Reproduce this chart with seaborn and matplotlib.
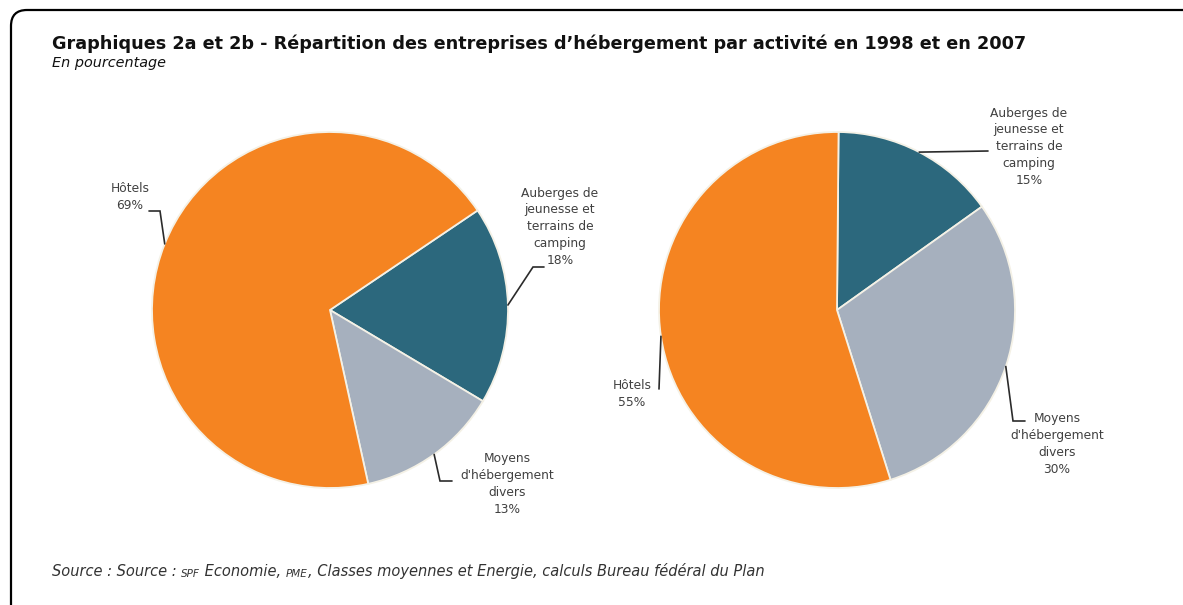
import numpy as np
import matplotlib.pyplot as plt
import seaborn as sns
from matplotlib.patches import FancyBboxPatch

W, H = 1183, 605

# data
categories = ["Auberges de\njeunesse et\nterrains de\ncamping",
              "Moyens\nd'hébergement\ndivers",
              "Hôtels"]
pct_1998 = [18, 13, 69]
pct_2007 = [15, 30, 55]
colors = ["#2C687D", "#A6B0BE", "#F58421"]

title = "Graphiques 2a et 2b - Répartition des entreprises d’hébergement par activité en 1998 et en 2007"
subtitle = "En pourcentage"
source_parts = [("Source : Source : ", 10.5), ("SPF", 7.5), (" Economie, ", 10.5), ("PME", 7.5),
                (", Classes moyennes et Energie, calculs Bureau fédéral du Plan", 10.5)]

sns.set_theme(style="white")
plt.rcParams["font.family"] = ["DejaVu Sans"]

fig = plt.figure(figsize=(W / 100, H / 100), dpi=100)
ax = fig.add_axes([0, 0, 1, 1])


def py(y):
    # pixel row (from top) -> data y
    return H - y


# label placement, in pixels from the top-left corner
layout_1998 = {
    0: dict(path=[(533, 267), (544, 267)], text=(560, 227)),
    1: dict(path=[(440, 481), (452, 481)], text=(507, 484)),
    2: dict(path=[(160, 211), (149, 211)], text=(130, 197)),
}
layout_2007 = {
    0: dict(path=[(988, 151)], text=(1029, 147)),
    1: dict(path=[(1013, 421), (1025, 421)], text=(1057, 444)),
    2: dict(path=[(659, 389)], text=(632, 394)),
}


def draw_pie(values, center, radius, start, layout):
    wedges, _ = ax.pie(values, colors=colors, startangle=start, counterclock=False,
                       center=(center[0], py(center[1])), radius=radius,
                       wedgeprops=dict(edgecolor="#F4F1E6", linewidth=1.3))
    for i, w in enumerate(wedges):
        mid = np.deg2rad((w.theta1 + w.theta2) / 2)
        x0 = center[0] + radius * np.cos(mid)
        y0 = py(center[1]) + radius * np.sin(mid)
        pts = [(x0, y0)] + [(x, py(y)) for x, y in layout[i]["path"]]
        xs, ys = zip(*pts)
        ax.plot(xs, ys, color="#2B2B2B", lw=1.2, solid_joinstyle="miter")
        tx, ty = layout[i]["text"]
        ax.text(tx, py(ty), f"{categories[i]}\n{values[i]}%", ha="center", va="center",
                multialignment="center", fontsize=8.8, color="#404040", linespacing=1.4)


draw_pie(pct_1998, (330, 310), 178, 34, layout_1998)
draw_pie(pct_2007, (837, 310), 178, 89.5, layout_2007)

ax.set_xlim(0, W)
ax.set_ylim(0, H)
ax.axis("off")

# frame
frame = FancyBboxPatch((11, py(640)), 1250, 630, boxstyle="round,pad=0,rounding_size=16",
                       fc="none", ec="black", lw=1.6, clip_on=False)
ax.add_patch(frame)

ax.text(52, py(44), title, fontsize=12.7, fontweight="bold", color="#111111", va="center")
ax.text(52, py(63), subtitle, fontsize=10.4, style="italic", color="#111111", va="center")

prev = None
for txt, size in source_parts:
    if prev is None:
        prev = ax.text(52, py(579), txt, fontsize=size, style="italic", color="#333333", va="bottom")
    else:
        prev = ax.annotate(txt, xy=(1, 0), xycoords=prev, fontsize=size, style="italic",
                           color="#333333", va="bottom", ha="left")

fig.savefig("out.png", dpi=100)
